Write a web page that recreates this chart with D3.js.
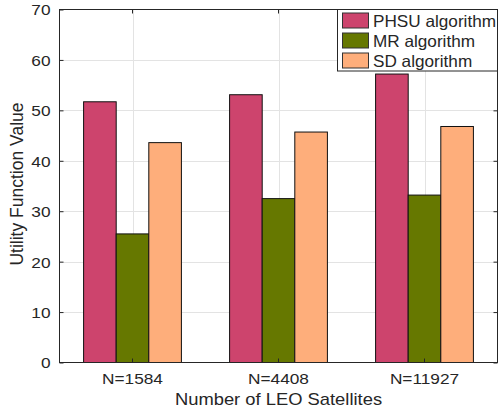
<!DOCTYPE html>
<html>
<head>
<meta charset="utf-8">
<script src="https://cdn.jsdelivr.net/npm/d3@7"></script>
<style>
  html, body { margin: 0; padding: 0; background: #fff; }
  svg { display: block; }
  text { font-family: "Liberation Sans", Arial, Helvetica, sans-serif; fill: #262626; }
</style>
</head>
<body>
<svg id="chart" width="499" height="412"></svg>
<script>
// Satellite constellation sizes on the x axis
const categories = ["N=1584", "N=4408", "N=11927"];
// Algorithms compared in each group
const seriesNames = ["PHSU algorithm", "MR algorithm", "SD algorithm"];
// Utility function value of each algorithm per constellation
const phsuValues = [51.7, 53.1, 57.2];
const mrValues = [25.5, 32.5, 33.2];
const sdValues = [43.6, 45.7, 46.8];
const seriesValues = [phsuValues, mrValues, sdValues];
const seriesColors = ["#cd446d", "#667800", "#feae7b"];
const yTicks = [0, 10, 20, 30, 40, 50, 60, 70];

const svg = d3.select("#chart");
const plotLeft = 59.5, plotRight = 497.5, plotTop = 9.5, plotBottom = 362.5;
const axisColor = "#262626";

const x = d3.scaleBand().domain(categories).range([plotLeft, plotRight])
  .paddingInner(0.33).paddingOuter(0.165);
const xInner = d3.scaleBand().domain(seriesNames).range([0, x.bandwidth()]).padding(0);
const y = d3.scaleLinear().domain([0, 70]).range([plotBottom, plotTop]);

// stretch a text element horizontally by factor k
function widen(sel, k) {
  sel.each(function () {
    const len = this.getComputedTextLength();
    d3.select(this).attr("textLength", len * k).attr("lengthAdjust", "spacingAndGlyphs");
  });
}

// grid lines
const grid = svg.append("g");
grid.selectAll(".hg").data(yTicks.slice(1, -1)).join("line")
  .attr("x1", plotLeft).attr("x2", plotRight)
  .attr("y1", d => Math.round(y(d)) + 0.5).attr("y2", d => Math.round(y(d)) + 0.5)
  .attr("stroke", "#e3e3e3").attr("stroke-width", 1);
grid.selectAll(".vg").data(categories).join("line")
  .attr("x1", d => Math.round(x(d) + x.bandwidth() / 2) + 0.5)
  .attr("x2", d => Math.round(x(d) + x.bandwidth() / 2) + 0.5)
  .attr("y1", plotTop).attr("y2", plotBottom)
  .attr("stroke", "#e3e3e3").attr("stroke-width", 1);

// bars
const groups = svg.append("g").selectAll("g").data(categories).join("g")
  .attr("transform", d => `translate(${x(d)},0)`);
groups.selectAll("rect")
  .data((c, ci) => seriesNames.map((s, si) => ({ s, si, v: seriesValues[si][ci] })))
  .join("rect")
  .attr("x", d => xInner(d.s))
  .attr("width", xInner.bandwidth())
  .attr("y", d => y(d.v))
  .attr("height", d => y(0) - y(d.v))
  .attr("fill", d => seriesColors[d.si])
  .attr("stroke", "#111")
  .attr("stroke-width", 1);

// axes (ticks pointing inward)
const yAxis = svg.append("g").attr("transform", `translate(${plotLeft},0)`)
  .call(d3.axisLeft(y).tickValues(yTicks).tickSize(-4).tickPadding(9).tickFormat(d3.format("d")));
const yAxisR = svg.append("g").attr("transform", `translate(${plotRight},0)`)
  .call(d3.axisRight(y).tickValues(yTicks).tickSize(-4).tickFormat(""));
const xAxis = svg.append("g").attr("transform", `translate(0,${plotBottom})`)
  .call(d3.axisBottom(x).tickSize(-4).tickPadding(11));
const xAxisT = svg.append("g").attr("transform", `translate(0,${plotTop})`)
  .call(d3.axisTop(x).tickSize(-4).tickFormat(""));

[yAxis, yAxisR, xAxis, xAxisT].forEach(g => {
  g.select(".domain").remove();
  g.selectAll(".tick line").attr("stroke", axisColor);
  g.selectAll("text").attr("fill", axisColor).style("font-size", "15px");
});
yAxis.selectAll("text").attr("dy", "0.36em");
widen(yAxis.selectAll("text"), 1.15);
xAxis.selectAll("text").attr("dy", "0.7em");
widen(xAxis.selectAll("text"), 1.15);

// box
svg.append("rect").attr("x", plotLeft).attr("y", plotTop)
  .attr("width", plotRight - plotLeft).attr("height", plotBottom - plotTop)
  .attr("fill", "none").attr("stroke", axisColor).attr("stroke-width", 1);

// axis titles
const xt = svg.append("text").attr("x", (plotLeft + plotRight) / 2).attr("y", 405)
  .attr("text-anchor", "middle").style("font-size", "17px")
  .text("Number of LEO Satellites");
widen(xt, 1.08);
svg.append("text").attr("transform", "translate(23,184) rotate(-90)")
  .attr("text-anchor", "middle").style("font-size", "17.5px")
  .text("Utility Function Value");

// legend
const lg = svg.append("g");
lg.append("rect").attr("x", 337.5).attr("y", 9.5).attr("width", 160).attr("height", 61.5)
  .attr("fill", "#fff").attr("stroke", axisColor).attr("stroke-width", 1);
const items = lg.selectAll("g.item").data(seriesNames).join("g")
  .attr("transform", (d, i) => `translate(342,${12.5 + i * 20})`);
items.append("rect").attr("x", 0.5).attr("y", 0.5).attr("width", 26).attr("height", 15)
  .attr("fill", (d, i) => seriesColors[i]).attr("stroke", "#333").attr("stroke-width", 1);
const lt = items.append("text").attr("x", 31).attr("y", 14)
  .style("font-size", "16.5px").attr("fill", "#000").text(d => d);
widen(lt, 1.04);
</script>
</body>
</html>
